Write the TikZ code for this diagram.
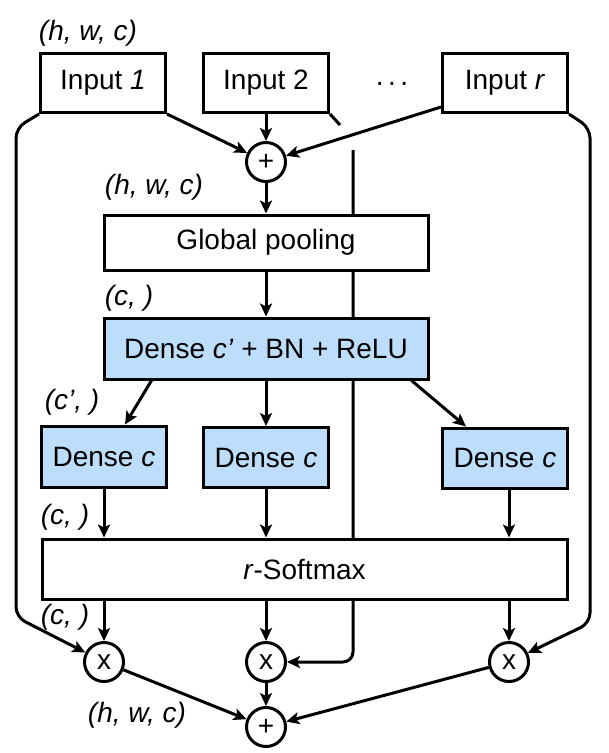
\documentclass[tikz,border=0pt]{standalone}
\usepackage{fontspec}
\setmainfont{Liberation Sans}
\usetikzlibrary{arrows.meta,backgrounds,calc}
\definecolor{boxblue}{RGB}{189,222,250}
\begin{document}
\begin{tikzpicture}[x=1pt,y=-1pt,
  every node/.style={font=\fontsize{28}{33}\selectfont},
  box/.style={draw, line width=3pt, inner sep=0pt, fill=white},
  bbox/.style={box, fill=boxblue},
  op/.style={draw, circle, line width=3pt, minimum size=39pt, inner sep=0pt, fill=white},
  lab/.style={font=\fontsize{28}{33}\selectfont\itshape},
  conn/.style={line width=3pt},
  arr/.style={conn, -{Stealth[length=13pt,width=12pt,inset=3pt]}},
]
\useasboundingbox (0,0) rectangle (609,753);
% inputs
\node[box, minimum width=125pt, minimum height=59pt] (in1) at (103,83) {Input \textit{1}};
\node[box, minimum width=125pt, minimum height=59pt] (in2) at (266,83) {Input 2};
\node (dots) at (392,87) {·\kern3pt·\kern3pt·};
\node[box, minimum width=125pt, minimum height=59pt] (inr) at (505,83) {Input \textit{r}};
\node[lab] (l1) at (88,33) {(h, w, c)};
\node[op] (p1) at (266,162) {+};
\node[lab] (l2) at (154,187) {(h, w, c)};
\node[box, minimum width=324pt, minimum height=55pt] (gp) at (266,242.5) {Global pooling};
\node[lab] (l3) at (129,298) {(c, )};
\node[bbox, minimum width=324pt, minimum height=61pt] (dcp) at (266,348.5) {Dense \textit{c’} + BN + ReLU};
\node[lab] (l4) at (72,402) {(c’, )};
\node[bbox, minimum width=125pt, minimum height=61pt] (dc1) at (104,456.5) {Dense \textit{c}};
\node[bbox, minimum width=125pt, minimum height=60pt] (dc2) at (266,457.5) {Dense \textit{c}};
\node[bbox, minimum width=125pt, minimum height=60pt] (dc3) at (505,458) {Dense \textit{c}};
\node[lab] (l5) at (65,517) {(c, )};
\node[box, minimum width=525pt, minimum height=60pt] (sm) at (304.5,569) {\textit{r}-Softmax};
\node[lab] (l6) at (65,617) {(c, )};
\node[op] (x1) at (104,662) {x};
\node[op] (x2) at (266,662) {x};
\node[op] (x3) at (509,662) {x};
\node[op] (p2) at (266,727) {+};
\node[lab] (l7) at (137,715) {(h, w, c)};
% connectors
\draw[arr] (in1.south east) -- (p1);
\draw[arr] (in2) -- (p1);
\draw[arr] ([yshift=7pt]inr.south west) -- (p1);
\draw[arr] (p1) -- (gp);
\draw[arr] (gp) -- (dcp);
\draw[arr] ([xshift=49pt]dcp.south west) -- ([xshift=21pt]dc1.north);
\draw[arr] (dcp) -- (dc2);
\draw[arr] ([xshift=-18pt]dcp.south east) -- ([xshift=-39pt]dc3.north);
\draw[arr] (dc1) -- (dc1 |- sm.north);
\draw[arr] (dc2) -- (dc2 |- sm.north);
\draw[arr] (dc3.south -| x3) -- (x3 |- sm.north);
\draw[arr] (sm.south -| x1) -- (x1);
\draw[arr] (sm.south -| x2) -- (x2);
\draw[arr] (sm.south -| x3) -- (x3);
\draw[arr] (x1) -- (p2);
\draw[arr] (x2) -- (p2);
\draw[arr] (x3) -- (p2);
\draw[arr, rounded corners=10pt] (in1.south west) -- (16,128) -- (16,617) -- (x1);
\draw[arr, rounded corners=10pt] (inr.south east) -- (590,128) -- (590,623) -- (x3);
\draw[conn] (in2.south east) -- (340,125);
\begin{pgfonlayer}{background}
\draw[arr, rounded corners=10pt] (353,150) -- (353,662) -- (x2.east);
\end{pgfonlayer}
\end{tikzpicture}
\end{document}
